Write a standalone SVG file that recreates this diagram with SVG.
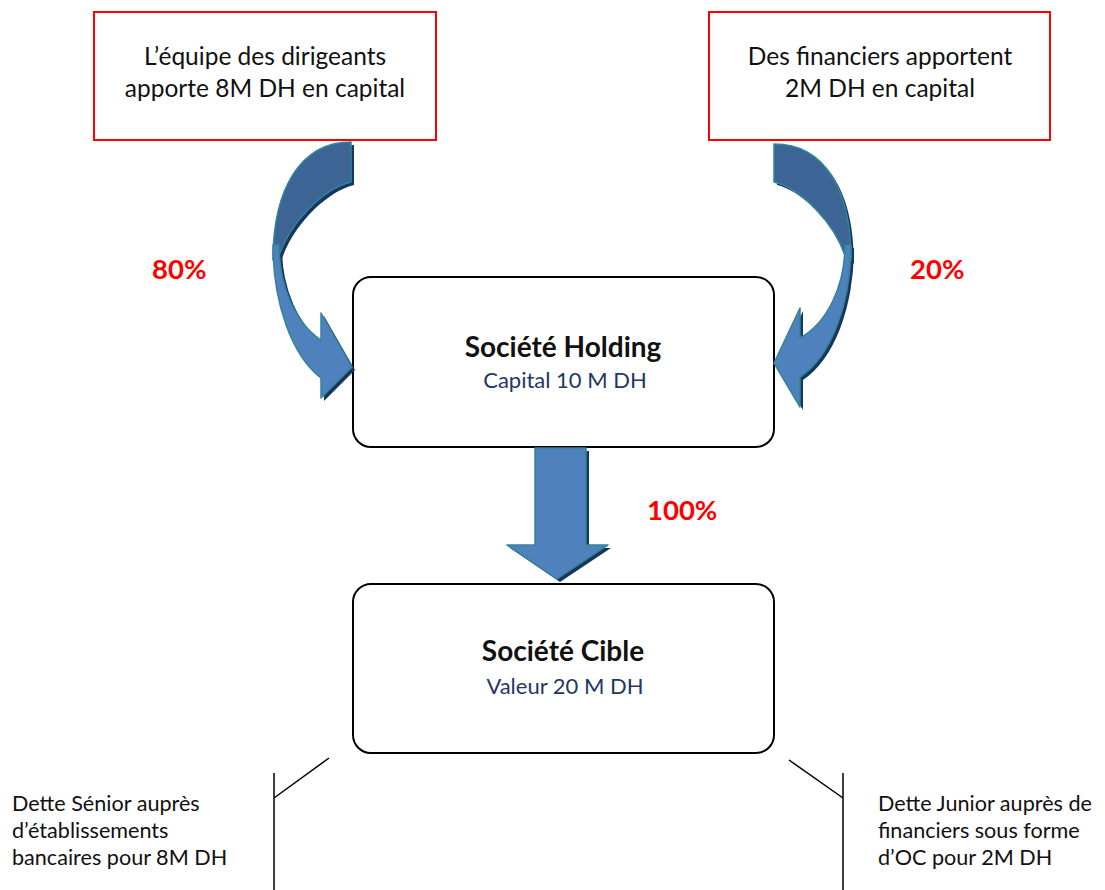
<svg xmlns="http://www.w3.org/2000/svg" width="1105" height="890" viewBox="0 0 1105 890">
<style>
text{font-family:Lato,"Open Sans","Liberation Sans",sans-serif;fill:#111}
.src{fill:#fff;stroke:#ff0000;stroke-width:2}
.box{fill:#fff;stroke:#000;stroke-width:2}
.t22{font-size:24.5px;text-anchor:middle}
.title{font-size:28px;font-weight:bold;text-anchor:middle}
.sub{font-size:22px;fill:#1f3864;text-anchor:middle}
.pct{font-size:27.5px;font-weight:bold;fill:#ff0000}
.note{font-size:21.6px}
.back{fill:#3c6494;stroke:#31849b;stroke-width:1.5;stroke-linejoin:round}
.front{fill:#4f81bd;stroke:#31849b;stroke-width:1.5;stroke-linejoin:round}
.shadow{fill:#17365d;stroke:none}
.line{stroke:#000;stroke-width:1.5;fill:none}
</style>
<defs>
<path id="la-back" d="M351,142 C300,142 273,190 273,260 L277,262 C288,222 325,188 351,182 Z"/>
<path id="la-front" d="M273,245 A78,144 0 0 0 321,378 L321,398 L352,367 L321,313 L321,340 A72,104.5 0 0 1 279,245 Z"/>
<path id="ra-back" d="M774,144 C825,144 851,190 851,260 L847,262 C836,222 799,188 774,182 Z"/>
<path id="ra-front" d="M851,245 A77,140 0 0 1 800,377 L800,407 L774,363 L800,308 L800,338 A71,100 0 0 0 845,245 Z"/>
<path id="da" d="M535,448 L586,448 L586,545 L608,545 L557,579 L507,545 L535,545 Z"/>
</defs>
<g id="node-dirigeants">
<rect class="src" x="94" y="12" width="342" height="128"/>
<text class="t22" x="265" y="65">L’équipe des dirigeants</text>
<text class="t22" x="265" y="97">apporte 8M DH en capital</text>
</g>
<g id="node-financiers">
<rect class="src" x="709" y="12" width="341" height="128"/>
<text class="t22" x="880" y="65">Des financiers apportent</text>
<text class="t22" x="880" y="97">2M DH en capital</text>
</g>
<g id="node-holding">
<rect class="box" x="353" y="277" width="421" height="170" rx="18"/>
<text class="title" x="563" y="357">Société Holding</text>
<text class="sub" x="565" y="388">Capital 10 M DH</text>
</g>
<g id="node-cible">
<rect class="box" x="353" y="584" width="421" height="169" rx="18"/>
<text class="title" x="563" y="661">Société Cible</text>
<text class="sub" x="565" y="694">Valeur 20 M DH</text>
</g>
<g id="connectors">
<use href="#la-back" class="shadow" transform="translate(3,3)"/>
<use href="#la-front" class="shadow" transform="translate(3,3)"/>
<use href="#la-back" class="back"/>
<use href="#la-front" class="front"/>
<use href="#ra-back" class="shadow" transform="translate(3,3)"/>
<use href="#ra-front" class="shadow" transform="translate(3,3)"/>
<use href="#ra-back" class="back"/>
<use href="#ra-front" class="front"/>
<use href="#da" class="shadow" transform="translate(3,3)"/>
<use href="#da" class="front"/>
<path class="line" d="M274,773 L274,890 M274,798 L329,758"/>
<path class="line" d="M843,773 L843,890 M843,798 L789,760"/>
</g>
<g id="labels">
<text class="pct" x="152" y="279">80%</text>
<text class="pct" x="910" y="279">20%</text>
<text class="pct" x="647" y="520">100%</text>
</g>
<g id="debt-senior">
<text class="note" x="12" y="811">Dette Sénior auprès</text>
<text class="note" x="12" y="838">d’établissements</text>
<text class="note" x="12" y="865">bancaires pour 8M DH</text>
</g>
<g id="debt-junior">
<text class="note" x="878" y="811">Dette Junior auprès de</text>
<text class="note" x="878" y="838">financiers sous forme</text>
<text class="note" x="878" y="865">d’OC pour 2M DH</text>
</g>
</svg>
